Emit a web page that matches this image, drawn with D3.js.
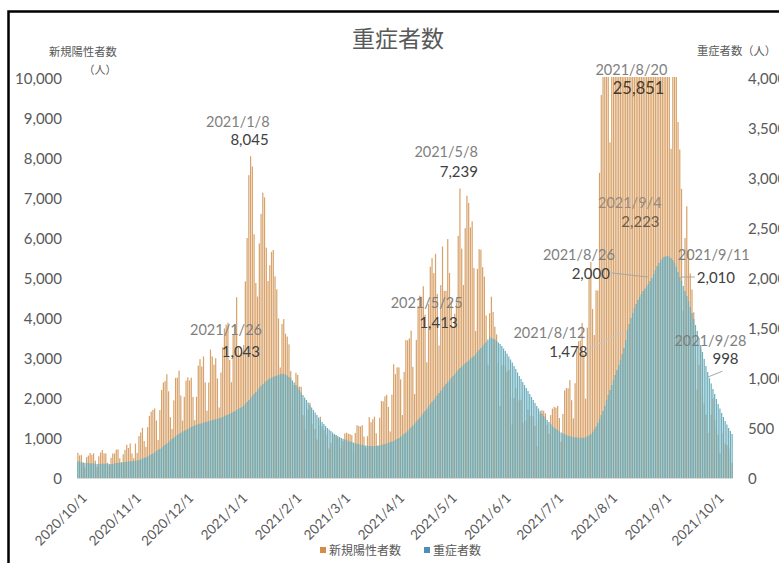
<!DOCTYPE html>
<html><head><meta charset="utf-8">
<script src="https://cdn.jsdelivr.net/npm/d3@7"></script>
<style>
html,body{margin:0;padding:0;background:#fff;}
svg{display:block;}
</style></head><body>
<svg id="c" width="779" height="563"></svg>
<script>
// ---------------- DATA ----------------
const startDate = "2020-10-01";   // first bar; one bar per day
// 新規陽性者数 (daily new positives), 2020/10/1 .. 2021/10/11
const newCases = [
// 2020 Oct
630,564,572,385,265,520,561,627,582,617,433,277,542,638,700,617,612,382,315,505,611,613,708,719,491,394,593,704,831,748,864,
// Nov
613,496,860,627,1048,1138,1255,924,780,1271,1547,1660,1704,1737,1438,948,1699,2201,2386,2424,2596,2168,1520,1228,1942,2504,2508,2684,2061,1436,
// Dec
2030,2434,2518,2442,2508,2027,1445,2031,2810,2971,2788,3041,2387,1681,2387,3211,3041,2834,2996,2492,1763,2637,3271,3740,3833,3881,2949,2395,3604,3852,4520,
// 2021 Jan
3256,3058,3139,3325,4915,6001,7570,8045,7790,6094,4876,4536,5864,6604,7133,7014,5759,4925,5320,5654,5700,5043,4717,3990,2764,3853,3973,3609,3536,3342,2673,
// Feb
1792,2324,2630,2576,2288,2279,1570,1227,1567,1713,1880,1359,1347,1227,963,1304,1531,1290,1197,1083,1083,737,876,1073,1065,1068,993,1003,
// Mar
752,918,1115,1133,1107,1098,1069,602,1127,1319,1300,1291,1318,1037,755,1046,1524,1395,1470,1533,1119,814,1507,1926,1916,2041,2080,1778,1164,2085,2843,
// Apr
2597,2767,2765,2466,1574,2653,3451,3440,3491,3686,2777,2102,3454,4306,4560,4532,4794,4085,2893,4346,5282,5496,5120,5604,4603,3314,4822,5786,4678,4680,
// May
5973,5128,4434,3781,4107,4372,6054,7239,5734,4826,6245,7057,6877,6265,6416,5251,3677,5229,5718,5706,5271,5035,4064,2832,4120,4532,4153,3783,3590,2871,1805,
// Jun
2814,3040,2805,2662,2705,2021,1330,2002,2256,1941,1937,1956,1387,938,1437,1714,1553,1544,1540,1305,797,1423,1601,1695,1681,1617,1331,1105,1573,1733,
// Jul
1781,1759,1799,1500,908,1600,2190,2249,2242,2449,1946,1491,2369,3194,3417,3434,3875,3099,1984,3760,5023,5396,4225,3574,4694,4685,7630,9575,10693,10744,12341,
// Aug
10166,8392,12017,14207,15263,15753,15812,14472,12076,10100,15812,18889,20365,20151,17387,14109,19955,23917,25156,25851,25492,22258,16890,21574,24316,24950,24227,22748,19297,13650,20018,
// Sep
20052,16762,16166,14115,12883,8230,12109,12389,10383,8900,8213,7229,4174,5999,6794,5685,5113,4713,4143,2997,2209,2827,3232,2087,1867,1578,1125,1126,1582,1984,
// Oct
1445,1227,1080,619,1119,1128,858,821,759,621,376
];
// 重症者数 (severe cases), same days
const severe = [
// 2020 Oct
168,162,158,155,150,152,150,148,146,145,144,140,140,141,142,143,143,142,140,140,141,145,150,152,153,155,158,160,163,165,167,
// Nov
168,170,172,175,180,186,192,200,208,216,225,235,245,256,268,280,292,305,318,332,345,360,375,390,405,418,430,442,452,462,
// Dec
470,480,490,500,510,518,525,532,538,543,548,553,558,563,568,573,578,583,588,593,598,603,610,618,626,634,642,650,660,670,681,
// 2021 Jan
690,700,712,725,740,760,780,800,820,840,860,880,900,920,940,955,970,985,995,1005,1012,1018,1024,1030,1036,1043,1040,1035,1025,1010,995,
// Feb
975,955,930,905,880,855,830,805,780,755,730,705,680,655,630,605,580,560,540,520,500,485,470,455,440,430,420,410,
// Mar
400,392,385,378,372,366,360,354,348,343,338,334,330,327,324,322,320,320,319,320,321,323,326,330,335,340,346,352,358,365,372,
// Apr
380,390,400,412,425,440,455,470,488,505,525,545,565,585,605,625,648,670,692,715,738,760,782,805,828,850,872,895,918,940,
// May
960,980,1000,1020,1040,1060,1080,1100,1115,1130,1145,1160,1175,1190,1205,1220,1240,1260,1280,1300,1320,1340,1360,1385,1413,1400,1395,1385,1370,1355,1340,
// Jun
1320,1295,1270,1245,1215,1185,1155,1120,1090,1055,1020,990,960,930,900,870,840,810,780,750,720,695,670,645,620,600,580,560,540,520,
// Jul
505,490,478,466,455,445,437,430,423,418,413,410,407,405,403,402,402,404,408,415,425,440,460,485,515,550,590,630,670,720,780,
// Aug
830,880,930,980,1030,1080,1130,1180,1240,1300,1380,1478,1540,1600,1650,1700,1740,1780,1810,1840,1870,1895,1920,1945,1970,2000,2040,2080,2120,2150,2175,
// Sep
2195,2210,2218,2223,2215,2200,2180,2150,2110,2060,2010,1970,1920,1870,1820,1770,1710,1650,1590,1530,1470,1400,1330,1260,1190,1120,1060,998,945,890,
// Oct
840,790,740,695,650,610,570,535,500,470,440
];
const leftTicks  = [0,1000,2000,3000,4000,5000,6000,7000,8000,9000,10000];
const rightTicks = [0,500,1000,1500,2000,2500,3000,3500,4000];
const monthTicks = ["2020-10-01","2020-11-01","2020-12-01","2021-01-01","2021-02-01","2021-03-01",
                    "2021-04-01","2021-05-01","2021-06-01","2021-07-01","2021-08-01","2021-09-01","2021-10-01"];
const titleText = "重症者数";
const leftTitle = ["新規陽性者数","（人）"];
const rightTitle = "重症者数（人）";
const seriesNames = ["新規陽性者数","重症者数"];
// labelled points: [date, series, value]
const labelDates  = ["2021-01-08","2021-05-08","2021-08-20","2021-01-26","2021-05-25","2021-08-12","2021-08-26","2021-09-04","2021-09-11","2021-09-28"];
const labelSeries = ["cases","cases","cases","severe","severe","severe","severe","severe","severe","severe"];
const labelValues = [8045,7239,25851,1043,1413,1478,2000,2223,2010,998];

// ---------------- CHART ----------------
const svg = d3.select("#c");
const W = 779, H = 563;
const plot = {l:77, r:733, t:78, b:478};
const parse = d3.utcParse("%Y-%m-%d");
const fmtDate = d3.utcFormat("%Y/%-m/%-d");
const fmtNum = d3.format(",");
const t0 = parse(startDate);
const n = newCases.length;
const days = d3.range(n);
const x = d3.scaleBand().domain(days).range([plot.l, plot.r]).paddingInner(0.3).paddingOuter(0.15);
const yL = d3.scaleLinear().domain([0,10000]).range([plot.b, plot.t]);
const yR = d3.scaleLinear().domain([0,4000]).range([plot.b, plot.t]);
const idx = s => d3.utcDay.count(t0, parse(s));
const cx = i => x(i) + x.bandwidth()/2;

const numFont = "Lato, 'Liberation Sans', sans-serif";
const jpFont = "'Noto Sans CJK JP', sans-serif";
const grey = "#595959";

svg.append("rect").attr("width",W).attr("height",H).attr("fill","#fff");
// outer frame (right/bottom cut off)
svg.append("rect").attr("x",8.5).attr("y",11.5).attr("width",800).attr("height",600)
  .attr("fill","none").attr("stroke","#000").attr("stroke-width",2.5);

// title
svg.append("text").attr("x",398).attr("y",47).attr("text-anchor","middle")
  .attr("font-family",jpFont).attr("font-size",23).attr("fill",grey).text(titleText);

// axis titles
svg.append("text").attr("x",49).attr("y",56).attr("font-family",jpFont).attr("font-size",11.3)
  .attr("fill",grey).text(leftTitle[0]);
svg.append("text").attr("x",100).attr("y",74).attr("text-anchor","middle").attr("font-family",jpFont)
  .attr("font-size",11).attr("fill",grey).text(leftTitle[1]);
svg.append("text").attr("x",697).attr("y",55).attr("font-family",jpFont).attr("font-size",11.3)
  .attr("fill",grey).text(rightTitle);

// clip
svg.append("clipPath").attr("id","pc").append("rect")
  .attr("x",plot.l-2).attr("y",plot.t-1).attr("width",plot.r-plot.l+4).attr("height",plot.b-plot.t+1);

const g = svg.append("g").attr("clip-path","url(#pc)");
const caseColor = "#D8A26A", sevColor = "#6DAEBD";

// axis baseline
svg.append("line").attr("x1",plot.l).attr("x2",plot.r).attr("y1",plot.b+0.5).attr("y2",plot.b+0.5)
  .attr("stroke","#d9d9d9").attr("stroke-width",1);

g.selectAll("rect.c").data(days).join("rect").attr("class","c")
  .attr("x",i=>x(i)).attr("width",x.bandwidth())
  .attr("y",i=>yL(newCases[i])).attr("height",i=>plot.b - yL(newCases[i]))
  .attr("fill",caseColor);
g.selectAll("rect.s").data(days).join("rect").attr("class","s")
  .attr("x",i=>x(i)).attr("width",x.bandwidth())
  .attr("y",i=>yR(severe[i])).attr("height",i=>plot.b - yR(severe[i]))
  .attr("fill",sevColor);

// left axis
const axL = svg.append("g").attr("transform",`translate(${plot.l-15},0)`)
  .call(d3.axisLeft(yL).tickValues(leftTicks).tickFormat(fmtNum).tickSize(0).tickPadding(0));
axL.select(".domain").remove();
axL.selectAll("text").attr("font-family",numFont).attr("font-size",15).attr("fill",grey).attr("dy","0.35em");

// right axis
const axR = svg.append("g").attr("transform",`translate(${plot.r+15},0)`)
  .call(d3.axisRight(yR).tickValues(rightTicks).tickFormat(fmtNum).tickSize(0).tickPadding(0));
axR.select(".domain").remove();
axR.selectAll("text").attr("font-family",numFont).attr("font-size",15).attr("fill",grey).attr("dy","0.35em");

// x axis labels
const xl = svg.append("g");
monthTicks.forEach(s=>{
  const px = cx(idx(s));
  xl.append("text").attr("transform",`translate(${px+10},${plot.b+21}) rotate(-45)`)
    .attr("text-anchor","end").attr("font-family",numFont).attr("font-size",13.5).attr("fill",grey)
    .text(fmtDate(parse(s)));
});

// legend
const lg = svg.append("g");
const legendItems = [{name:seriesNames[0], color:"#D68C45", x:320},{name:seriesNames[1], color:"#4F8FB5", x:424}];
legendItems.forEach(d=>{
  lg.append("rect").attr("x",d.x).attr("y",547).attr("width",6).attr("height",6).attr("fill",d.color);
  lg.append("text").attr("x",d.x+9).attr("y",555).attr("font-family",jpFont).attr("font-size",12)
    .attr("fill",grey).text(d.name);
});

// annotations: layout offsets relative to the labelled point
const layout = {
  "2021-01-08": {a:"end", dx1:19, dy1:-29, dx2:18, dy2:-11},
  "2021-05-08": {a:"end", dx1:18, dy1:-31, dx2:18, dy2:-11},
  "2021-08-20": {a:"end", dx1:26, dy1:-3,  dx2:23, dy2:16, big:true},
  "2021-01-26": {a:"end", dx1:-20, dy1:-39, dx2:-22, dy2:-17},
  "2021-05-25": {a:"end", dx1:-27, dy1:-29, dx2:-32, dy2:-9},
  "2021-08-12": {a:"end", dx1:-42, dy1:8, dx2:-40, dy2:27, line:[-37,18,-3,1], lc:"#c8c8c8"},
  "2021-08-26": {a:"end", dx1:-37, dy1:-18, dx2:-42, dy2:1, line:[-40,-5,-4,-1]},
  "2021-09-04": {a:"end", dx1:-6, dy1:-48, dx2:-8, dy2:-29, faint:true},
  "2021-09-11": {a:"start", dx1:-2, dy1:-17, dx2:17, dy2:6, line:[1,0,15,0]},
  "2021-09-28": {a:"start", dx1:-35, dy1:-32, dx2:3, dy2:-14, line:[-2,-1,13,-7]}
};
const ann = svg.append("g");
labelDates.forEach((s,k)=>{
  const L = layout[s];
  const i = idx(s);
  const px = cx(i);
  let py = labelSeries[k]==="cases" ? yL(labelValues[k]) : yR(labelValues[k]);
  py = Math.max(py, plot.t);
  if (L.line) {
    ann.append("line").attr("x1",px+L.line[0]).attr("y1",py+L.line[1])
      .attr("x2",px+L.line[2]).attr("y2",py+L.line[3]).attr("stroke",L.lc||"#a6a6a6").attr("stroke-width",1);
  }
  const c1 = L.faint ? "#9c8a78" : "#7f7f7f";
  const c2 = L.faint ? "#6f5c48" : (L.big ? "#4a3a2c" : "#404040");
  ann.append("text").attr("x",px+L.dx1).attr("y",py+L.dy1).attr("text-anchor",L.a)
    .attr("font-family",numFont).attr("font-size",14.5).attr("fill",c1).text(fmtDate(parse(s)));
  ann.append("text").attr("x",px+L.dx2).attr("y",py+L.dy2).attr("text-anchor",L.a)
    .attr("font-family",numFont).attr("font-size",L.big?16.5:15).attr("fill",c2).text(fmtNum(labelValues[k]));
});
</script>
</body></html>
